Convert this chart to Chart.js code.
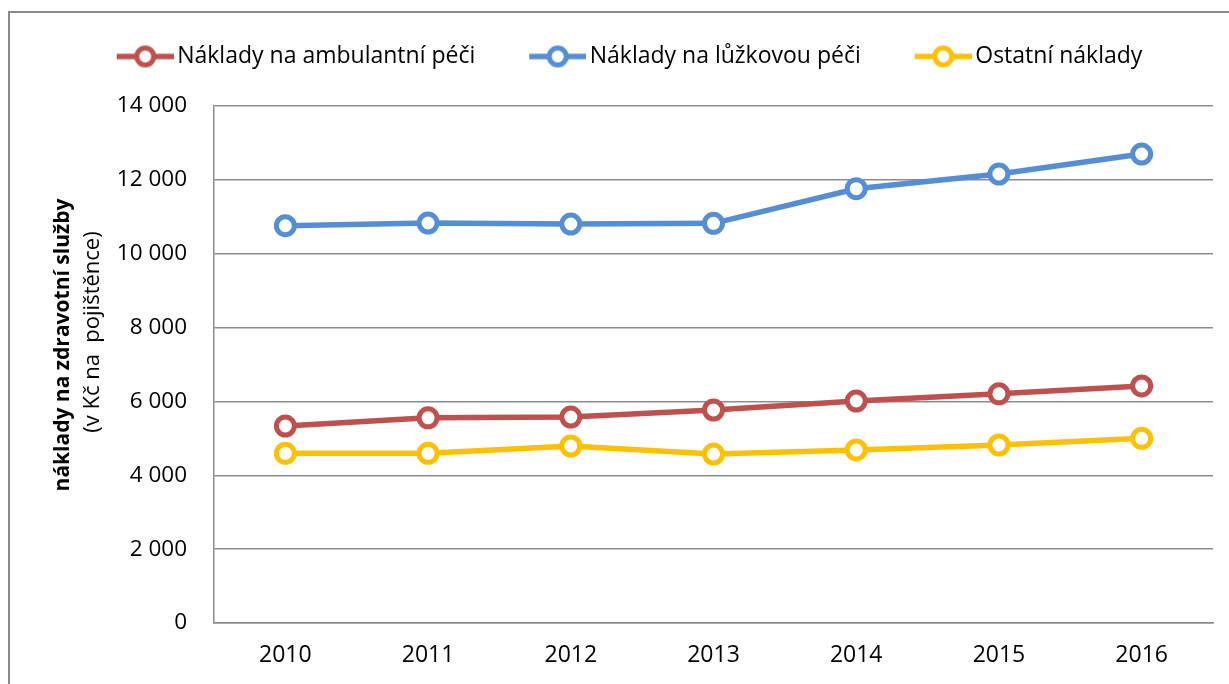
<!DOCTYPE html>
<html>
<head>
<meta charset="utf-8">
<script src="https://cdn.jsdelivr.net/npm/chart.js@4"></script>
<style>
  html, body { margin: 0; padding: 0; background: #fff; }
  #wrap { width: 1229px; height: 684px; position: relative; }
</style>
</head>
<body>
<div id="wrap"><canvas id="chart"></canvas></div>
<script>
const years = ['2010', '2011', '2012', '2013', '2014', '2015', '2016'];
const ambulantni = [5334, 5555, 5578, 5768, 6011, 6205, 6418];
const luzkova = [10758, 10831, 10804, 10822, 11760, 12158, 12700];
const ostatni = [4595, 4595, 4793, 4576, 4685, 4820, 5001];
const seriesNames = ['Náklady na ambulantní péči', 'Náklady na lůžkovou péči', 'Ostatní náklady'];
const seriesColors = ['#C0504D', '#558ED5', '#FFC000'];
const yTitle = ['náklady na zdravotní služby', '(v Kč na  pojištěnce)'];

Chart.defaults.font.family = "'Open Sans', sans-serif";
Chart.defaults.color = '#000';

const GRID = '#8c8c8c';

// legend marker: short line with a hollow circle, drawn at the right end of a wider box
function makeMarker(color) {
  const c = document.createElement('canvas');
  c.width = 99; c.height = 26;
  const g = c.getContext('2d');
  g.strokeStyle = color;
  g.lineWidth = 5.5;
  g.beginPath(); g.moveTo(42, 13); g.lineTo(99, 13); g.stroke();
  g.beginPath(); g.arc(70.5, 13, 8.5, 0, Math.PI * 2);
  g.fillStyle = '#fff'; g.fill();
  g.lineWidth = 5; g.stroke();
  return c;
}
const markers = seriesColors.map(makeMarker);

const fmt = v => String(v).replace(/\B(?=(\d{3})+(?!\d))/g, ' ');

const mkSet = (label, data, color) => ({
  label, data,
  borderColor: color, backgroundColor: color,
  borderWidth: 5.5, tension: 0,
  pointRadius: 9, pointBorderWidth: 5,
  pointBackgroundColor: '#fff', pointBorderColor: color,
});

const frame = {
  id: 'frame',
  beforeInit(chart) {
    const fit = chart.legend.fit;
    chart.legend.fit = function () { fit.call(this); this.height += 28; };
  },
  afterDraw(chart) {
    const ctx = chart.ctx;
    ctx.save();
    ctx.strokeStyle = '#8a8a8a';
    ctx.lineWidth = 2;
    ctx.strokeRect(9, 12, 1400, 900);
    ctx.fillStyle = '#000';
    ctx.textAlign = 'center';
    ctx.textBaseline = 'middle';
    ctx.translate(63, 345);
    ctx.rotate(-Math.PI / 2);
    ctx.font = "bold 21px 'Open Sans', sans-serif";
    ctx.fillText(yTitle[0], 0, 0);
    ctx.font = "22px 'Open Sans', sans-serif";
    ctx.fillText(yTitle[1], 13, 30);
    ctx.restore();
  }
};

new Chart(document.getElementById('chart'), {
  type: 'line',
  data: {
    labels: years,
    datasets: [
      mkSet(seriesNames[0], ambulantni, seriesColors[0]),
      mkSet(seriesNames[1], luzkova, seriesColors[1]),
      mkSet(seriesNames[2], ostatni, seriesColors[2]),
    ],
  },
  options: {
    responsive: true, maintainAspectRatio: false, animation: false,
    layout: { padding: { top: 25, right: 16, left: 12, bottom: 0 } },
    plugins: {
      tooltip: { enabled: false },
      legend: {
        position: 'top',
        labels: {
          usePointStyle: true, pointStyleWidth: 83, padding: 20,
          font: { size: 23 },
          generateLabels: chart => Chart.defaults.plugins.legend.labels.generateLabels(chart)
            .map((it, i) => ({ ...it, pointStyle: markers[i] })),
        },
      },
    },
    scales: {
      x: {
        offset: true,
        grid: { display: false, drawTicks: false },
        border: { color: GRID, width: 1.5 },
        ticks: { font: { size: 23 }, padding: 19 },
        afterFit: s => { s.height = 61; },
      },
      y: {
        min: 0, max: 14000,
        grid: { color: GRID, lineWidth: 1.5, drawTicks: false },
        border: { color: GRID, width: 1.5 },
        ticks: { stepSize: 2000, font: { size: 22.5 }, padding: 27, callback: v => fmt(v) },
        afterFit: s => { s.width = 202; },
      },
    },
  },
  plugins: [frame],
});
</script>
</body>
</html>
